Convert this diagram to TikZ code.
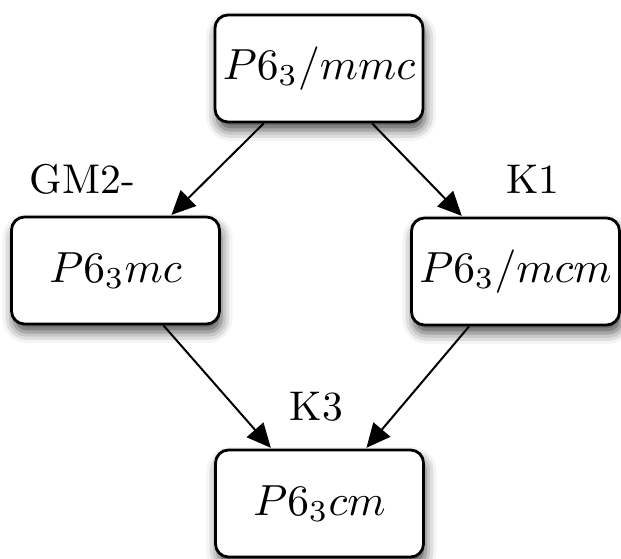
\documentclass[tikz,border=0pt]{standalone}
\usepackage{graphicx}
\usetikzlibrary{arrows.meta,shadows.blur}
\newcommand{\grpname}[1]{\scalebox{4.35}{$#1$}}
\newcommand{\irrep}[1]{\scalebox{4.15}{#1}}
\tikzset{
  grp/.style={draw=black, line width=2.8pt, rounded corners=13pt, fill=white,
    minimum width=208pt, minimum height=107pt, inner sep=0pt,
    blur shadow={shadow xshift=2pt, shadow yshift=-8pt, shadow blur radius=11pt, shadow opacity=70}},
  lbl/.style={inner sep=0pt},
  arr/.style={line width=2pt, -{Triangle[length=24pt,width=22pt]}, shorten >=1pt}
}
\begin{document}
\begin{tikzpicture}[x=1pt,y=-1pt]
\useasboundingbox (0,0) rectangle (621,559);
\node[grp] (top) at (319,68.5) {\grpname{P6_3/mmc}};
\node[grp] (left) at (115.5,270.5) {\grpname{P6_3mc}};
\node[grp] (right) at (515.5,271.5) {\grpname{P6_3/mcm}};
\node[grp] (bot) at (319.5,503.5) {\grpname{P6_3cm}};
\node[lbl] (l1) at (82.5,179) {\irrep{GM2-}};
\node[lbl] (l2) at (533,179.5) {\irrep{K1}};
\node[lbl] (l3) at (316.5,407) {\irrep{K3}};
\draw[arr] (top) -- (left);
\draw[arr] (top) -- (right);
\draw[arr] (left) -- (bot);
\draw[arr] (right) -- (bot);
\end{tikzpicture}
\end{document}
